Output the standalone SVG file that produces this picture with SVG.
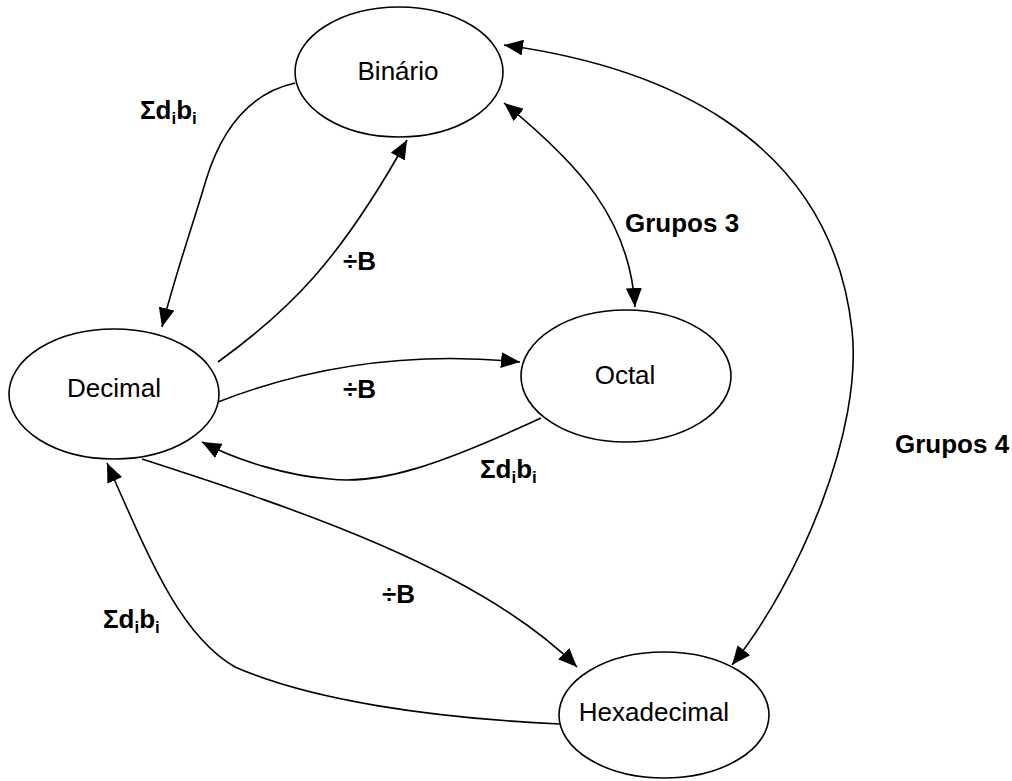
<svg xmlns="http://www.w3.org/2000/svg" width="1012" height="781" viewBox="0 0 1012 781">
<defs>
<style>
.node{fill:#fff;stroke:#000;stroke-width:1.6}
.lbl{font-family:"Liberation Sans",Arial,sans-serif;font-size:26px;fill:#000}
.b{font-family:"Liberation Sans",Arial,sans-serif;font-size:26px;font-weight:bold;fill:#000}
.sub{font-size:17px}
.edge{fill:none;stroke:#000;stroke-width:1.6}
</style>
<marker id="ah" markerWidth="19" markerHeight="16" refX="19" refY="8" orient="auto-start-reverse" markerUnits="userSpaceOnUse">
<path d="M0,0 L19,8 L0,16 z" fill="#000"/>
</marker>
</defs>
<rect width="1012" height="781" fill="#fff"/>
<g id="connectors">
<path class="edge" d="M295,83 C250,93 222,128 206,180 C196,215 175,275 162,327" marker-end="url(#ah)"/>
<path class="edge" d="M218,362 C290,310 340,260 407,140" marker-end="url(#ah)"/>
<path class="edge" d="M218,402 C300,370 400,350 520,362" marker-end="url(#ah)"/>
<path class="edge" d="M541,418 C440,465 380,485 330,479 C290,476 240,462 202,442" marker-end="url(#ah)"/>
<path class="edge" d="M142,459 C300,510 480,570 577,667" marker-end="url(#ah)"/>
<path class="edge" d="M560,724 C430,718 310,700 235,667 C180,635 150,560 107,463" marker-end="url(#ah)"/>
<path class="edge" d="M504,103 C580,165 630,220 635,307" marker-start="url(#ah)" marker-end="url(#ah)"/>
<path class="edge" d="M504,45 C650,65 830,130 852,330 C863,430 800,580 732,665" marker-start="url(#ah)" marker-end="url(#ah)"/>
</g>
<g id="labels">
<text class="b" x="140" y="119">Σd<tspan class="sub" dy="5">i</tspan><tspan dy="-5">b</tspan><tspan class="sub" dy="5">i</tspan></text>
<text class="b" x="343" y="270">÷B</text>
<text class="b" x="343" y="398">÷B</text>
<text class="b" x="480" y="478">Σd<tspan class="sub" dy="5">i</tspan><tspan dy="-5">b</tspan><tspan class="sub" dy="5">i</tspan></text>
<text class="b" x="382" y="603">÷B</text>
<text class="b" x="103" y="628">Σd<tspan class="sub" dy="5">i</tspan><tspan dy="-5">b</tspan><tspan class="sub" dy="5">i</tspan></text>
<text class="b" x="625" y="232">Grupos 3</text>
<text class="b" x="895" y="453">Grupos 4</text>
</g>
<g id="binario">
<ellipse class="node" cx="399" cy="72" rx="104" ry="65"/>
<text class="lbl" x="398" y="80" text-anchor="middle">Binário</text>
</g>
<g id="decimal">
<ellipse class="node" cx="114" cy="394" rx="105" ry="65"/>
<text class="lbl" x="114" y="397" text-anchor="middle">Decimal</text>
</g>
<g id="octal">
<ellipse class="node" cx="626" cy="376" rx="105" ry="66"/>
<text class="lbl" x="625" y="384" text-anchor="middle">Octal</text>
</g>
<g id="hexadecimal">
<ellipse class="node" cx="664" cy="715" rx="105" ry="63"/>
<text class="lbl" x="654" y="721" text-anchor="middle">Hexadecimal</text>
</g>
</svg>
